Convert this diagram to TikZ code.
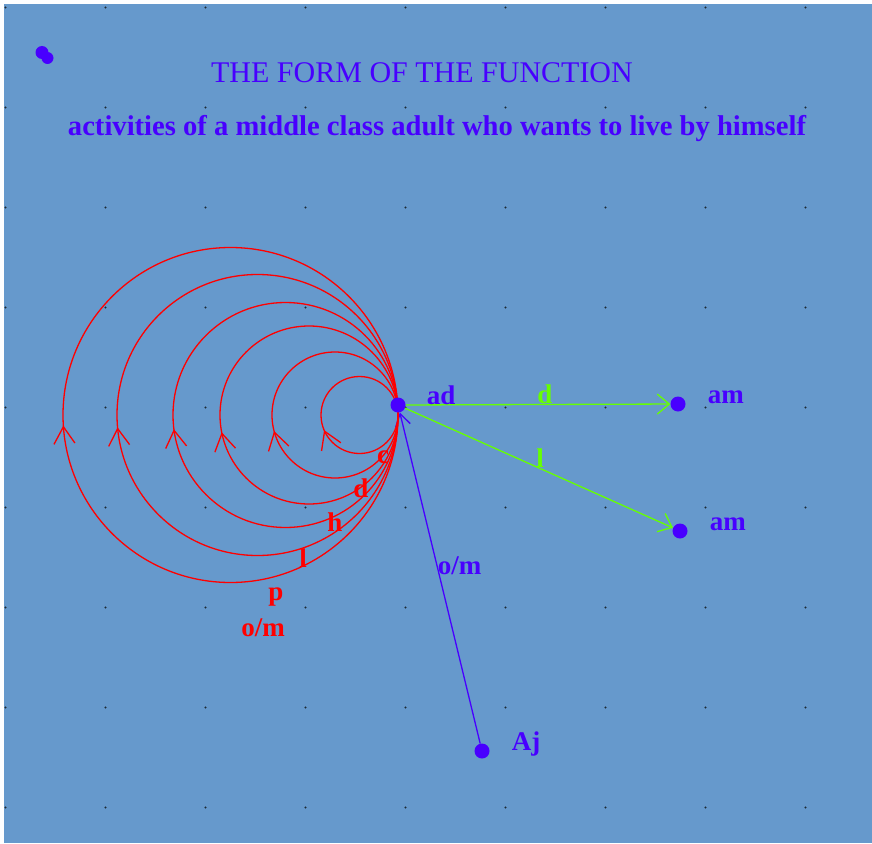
\documentclass[tikz,border=0pt]{standalone}
\usepackage{fontspec}
\setmainfont{Liberation Serif}
\usepackage{tikz}
\usetikzlibrary{positioning, arrows.meta, decorations.markings, backgrounds}
\definecolor{skyBg}{HTML}{6699CC}
\definecolor{funcViolet}{HTML}{4800FF}
\definecolor{funcRed}{HTML}{FF0000}
\definecolor{funcGreen}{HTML}{66FF00}
\definecolor{gridInk}{HTML}{1E2A36}

\tikzset{
  actor/.style={circle, fill=funcViolet, inner sep=0pt, minimum size=15pt},
  headfont/.style={font=\fontsize{30}{34}\selectfont, inner sep=0pt},
  subfont/.style={font=\fontsize{28.6}{32}\selectfont\bfseries, inner sep=0pt},
  lbl/.style={font=\fontsize{27}{30}\selectfont\bfseries, inner sep=0pt},
  loopline/.style={funcRed, line width=1.3pt},
  arrowat/.style={decoration={markings, mark=at position #1 with
      {\arrow{Straight Barb[length=17pt, width=21pt]}}}, postaction={decorate}},
  moveline/.style={funcGreen, line width=1.3pt,
    -{Straight Barb[length=12pt, width=20pt]}},
  claimline/.style={funcViolet, line width=1.3pt,
    -{Straight Barb[length=12pt, width=15pt]}}
}

\begin{document}
\begin{tikzpicture}[x=1pt, y=-1pt]
  \useasboundingbox (0,0) rectangle (872,843);
  % ---- sheet and dot grid ----
  \begin{scope}[on background layer]
    \fill[white] (0,0) rectangle (872,843);
    \fill[skyBg] (3.5,4.5) rectangle (872,843);
    \foreach \gx in {0,...,8}
      \foreach \gy in {0,...,8}
        \fill[gridInk] (5.5+100*\gx,7.5+100*\gy) circle (1.1pt);
  \end{scope}
  % ---- headings ----
  \node[headfont, text=funcViolet] (title) at (422,73)
    {THE FORM OF THE FUNCTION};
  \node[subfont, text=funcViolet] (subtitle) at (437,129)
    {activities of a middle class adult who wants to live by himself};
  \fill[funcViolet] (42,52.5) circle (6.5pt) (47.5,58) circle (6pt);
  % ---- actors ----
  \node[actor] (ad) at (398,405) {};
  \node[actor] (am1) at (678,404) {};
  \node[actor] (am2) at (680,531) {};
  \node[actor] (aj) at (482,751) {};
  \node[lbl, text=funcViolet, right=21pt of ad, yshift=10pt] (adlbl) {ad};
  \node[lbl, text=funcViolet, right=22pt of am1, yshift=7pt] (am1lbl) {am};
  \node[lbl, text=funcViolet, right=22pt of am2, yshift=6.5pt] (am2lbl) {am};
  \node[lbl, text=funcViolet, right=22pt of aj, yshift=7.5pt] (ajlbl) {Aj};
  % ---- connectors ----
  \begin{scope}[on background layer]
    \draw[moveline] (ad) -- (am1)
      node[lbl, pos=0.526, above, text=funcGreen] (dlbl) {d};
    \draw[moveline] (ad) -- (am2)
      node[lbl, pos=0.504, above, text=funcGreen] (llbl) {l};
    \draw[claimline] (aj) -- (ad)
      node[lbl, pos=0.536, right, text=funcViolet] (omlbl) {o/m};
    \foreach \r/\p in {167.5/0.490, 140.5/0.486, 112.5/0.480,
                       89/0.469, 63/0.459, 38.5/0.436}
      \draw[loopline, arrowat=\p] ([yshift=-10pt]ad.center)
        arc[start angle=0, end angle=-360, radius=\r pt];
  \end{scope}
  % ---- loop labels ----
  \node[lbl, text=funcRed] (cloop) at (383,457) {c};
  \node[lbl, text=funcRed] (dloop) at (361,488) {d};
  \node[lbl, text=funcRed] (hloop) at (335,522) {h};
  \node[lbl, text=funcRed] (lloop) at (303,558) {l};
  \node[lbl, text=funcRed] (ploop) at (276,597) {p};
  \node[lbl, text=funcRed] (omloop) at (263,628) {o/m};
\end{tikzpicture}
\end{document}
